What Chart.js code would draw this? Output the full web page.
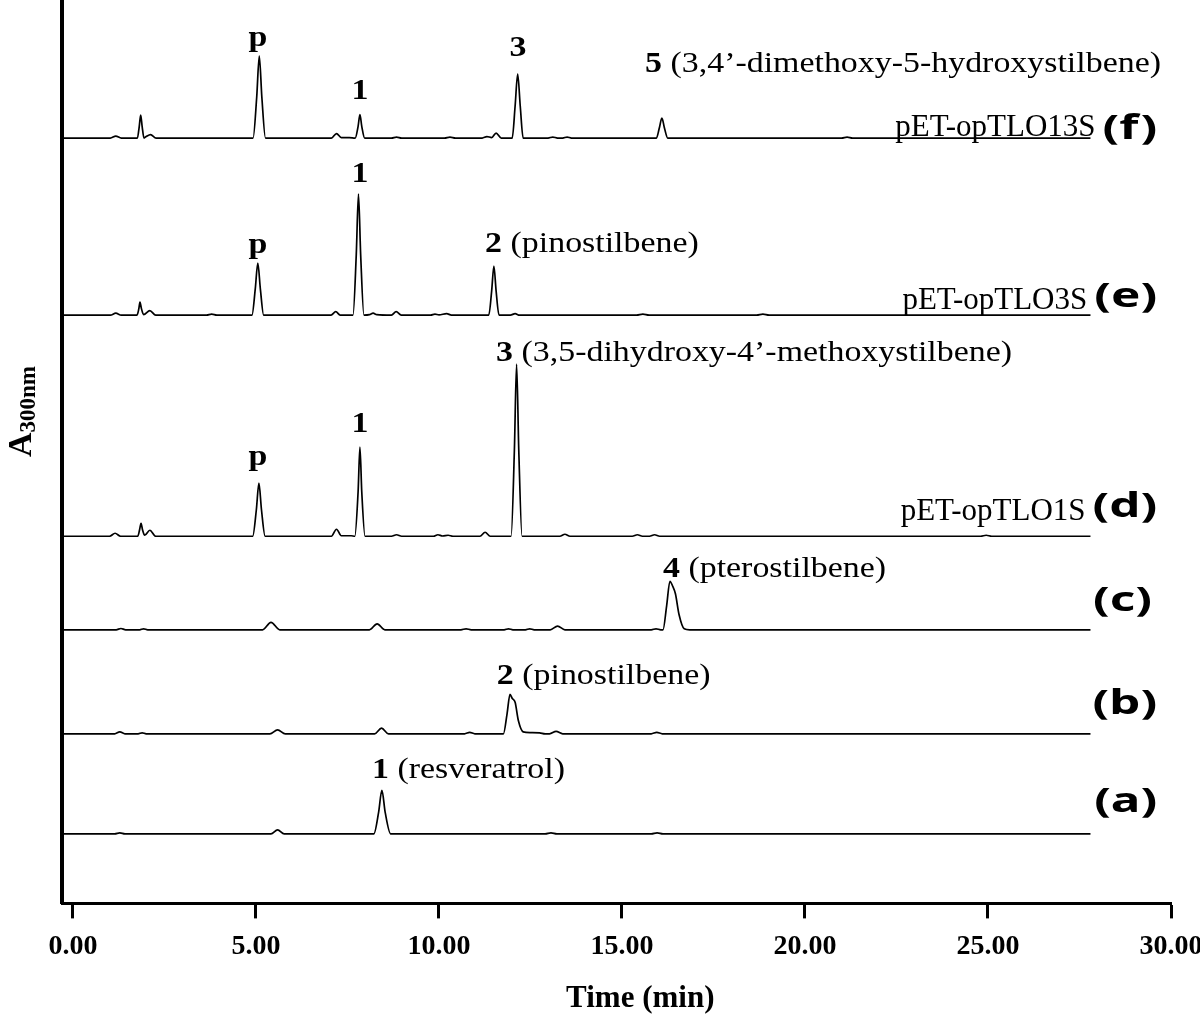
<!DOCTYPE html>
<html>
<head>
<meta charset="utf-8">
<script src="https://cdn.jsdelivr.net/npm/chart.js@4.4.1/dist/chart.umd.min.js"></script>
<style>
  html, body { margin: 0; padding: 0; background: #fff; }
  #wrap { width: 1200px; height: 1020px; }
</style>
</head>
<body>
<div id="wrap"><canvas id="chrom" width="1200" height="1020"></canvas></div>
<script>
// HPLC traces, [retention time (min), absorbance above own baseline (a.u.)]
const traceA = [[-0.25,0],[1.14,0],[1.28,0.2],[1.42,0],
  [5.41,0],[5.59,0.8],[5.77,0],
  [8.22,0],[8.35,4.3],[8.44,8.7],[8.53,4.3],[8.68,0],
  [12.9,0],[13.06,0.2],[13.22,0],
  [15.8,0],[15.96,0.2],[16.12,0],[27.8,0]];

const traceB = [[-0.25,0],[1.14,0],[1.28,0.4],[1.42,0],[1.78,0],[1.89,0.2],[2.0,0],
  [5.38,0],[5.59,0.8],[5.8,0],
  [8.24,0],[8.43,1.15],[8.62,0],
  [10.7,0],[10.84,0.3],[10.98,0],
  [11.76,0],[11.86,4.0],[11.94,7.9],[12.0,7.1],[12.08,6.3],[12.17,2.6],[12.3,0.4],[12.5,0.25],[12.75,0.2],[12.9,0],
  [13.02,0],[13.2,0.5],[13.38,0],
  [15.8,0],[15.95,0.3],[16.1,0],[27.8,0]];

const traceC = [[-0.25,0],[1.18,0],[1.31,0.26],[1.44,0],[1.82,0],[1.93,0.2],[2.04,0],
  [5.18,0],[5.41,1.5],[5.65,0],
  [8.1,0],[8.31,1.2],[8.52,0],
  [10.6,0],[10.74,0.2],[10.88,0],
  [11.78,0],[11.9,0.2],[12.02,0],
  [12.36,0],[12.48,0.2],[12.6,0],
  [13.04,0],[13.24,0.75],[13.44,0],
  [15.8,0],[15.93,0.2],[16.06,0],[16.12,0],
  [16.22,4.8],[16.31,9.7],[16.38,8.8],[16.46,7.2],[16.56,3.0],[16.7,0.2],[16.85,0],[27.8,0]];

const traceD = [[-0.25,0],[1.0,0],[1.15,0.6],[1.3,0],
  [1.77,0],[1.82,1.3],[1.86,2.6],[1.9,1.3],[1.96,0.2],[2.1,1.2],[2.26,0],
  [4.91,0],[5.01,5.3],[5.08,10.6],[5.15,5.3],[5.25,0],
  [7.06,0],[7.2,1.4],[7.33,0.1],[7.6,0.1],[7.7,0],[7.79,8.9],[7.84,17.8],[7.89,8.9],[7.98,0],
  [8.7,0],[8.84,0.3],[8.98,0],
  [9.85,0],[9.97,0.3],[10.1,0.05],[10.25,0.2],[10.38,0],
  [11.12,0],[11.26,0.8],[11.4,0],
  [11.97,0],[12.06,17.2],[12.12,34.4],[12.18,17.2],[12.27,0],
  [13.3,0],[13.44,0.4],[13.58,0],
  [15.28,0],[15.42,0.3],[15.56,0],[15.75,0],[15.89,0.3],[16.03,0],
  [24.8,0],[24.95,0.2],[25.1,0],[27.8,0]];

const traceE = [[-0.25,0],[1.02,0],[1.17,0.4],[1.32,0],
  [1.75,0],[1.80,1.3],[1.83,2.6],[1.87,1.3],[1.93,0.1],[2.1,0.9],[2.26,0],
  [3.65,0],[3.79,0.2],[3.93,0],
  [4.89,0],[4.98,5.2],[5.05,10.4],[5.12,5.2],[5.21,0],
  [7.05,0],[7.18,0.7],[7.3,0],
  [7.65,0],[7.74,12.1],[7.80,24.2],[7.86,12.1],[7.95,0],
  [8.1,0.1],[8.2,0.4],[8.3,0.1],
  [8.7,0],[8.83,0.7],[8.97,0],
  [9.77,0],[9.89,0.2],[10.0,0.05],[10.21,0.3],[10.34,0],
  [11.36,0],[11.44,4.9],[11.50,9.8],[11.56,4.9],[11.64,0],
  [11.95,0],[12.08,0.3],[12.2,0],
  [15.4,0],[15.57,0.2],[15.74,0],
  [18.68,0],[18.85,0.2],[19.02,0],[27.8,0]];

const traceF = [[-0.25,0],[1.02,0],[1.17,0.4],[1.32,0],
  [1.76,0],[1.81,2.3],[1.85,4.6],[1.89,2.3],[1.94,0],[2.0,0.3],[2.12,0.7],[2.27,0],
  [4.92,0],[5.02,8.2],[5.09,16.4],[5.16,8.2],[5.26,0],
  [7.06,0],[7.2,0.9],[7.33,0.1],[7.55,0.1],[7.71,0],[7.79,2.35],[7.84,4.7],[7.89,2.35],[7.97,0],
  [8.7,0],[8.84,0.2],[8.98,0],
  [10.15,0],[10.3,0.2],[10.45,0],
  [11.18,0],[11.31,0.3],[11.44,0.1],[11.56,1.0],[11.7,0],
  [12.0,0],[12.08,6.4],[12.15,12.8],[12.22,6.4],[12.3,0],
  [12.98,0],[13.11,0.2],[13.24,0],
  [13.38,0],[13.5,0.2],[13.62,0],
  [15.94,0],[16.02,2.0],[16.09,4.0],[16.16,2.0],[16.25,0],
  [21.0,0],[21.15,0.2],[21.3,0],[27.8,0]];

const tickValues = [0, 5, 10, 15, 20, 25, 30];

// vertical stacking of the traces (a.u. on the hidden y scale)
const baseOffsets = { a: 13.9, b: 33.9, c: 54.7, d: 73.4, e: 117.6, f: 153 };
const traces = { a: traceA, b: traceB, c: traceC, d: traceD, e: traceE, f: traceF };

const peakLabels = [
  { trace: 'f', t: 5.05, dy: 18.4, bold: 'p', align: 'center' },
  { trace: 'f', t: 7.84, dy: 7.8, bold: '1', align: 'center' },
  { trace: 'f', t: 12.16, dy: 16.4, bold: '3', align: 'center' },
  { trace: 'f', t: 15.63, dy: 13.2, bold: '5', text: '(3,4\u2019-dimethoxy-5-hydroxystilbene)' },
  { trace: 'e', t: 5.05, dy: 12.4, bold: 'p', align: 'center' },
  { trace: 'e', t: 7.84, dy: 26.6, bold: '1', align: 'center' },
  { trace: 'e', t: 11.26, dy: 12.6, bold: '2', text: '(pinostilbene)' },
  { trace: 'd', t: 5.05, dy: 14.2, bold: 'p', align: 'center' },
  { trace: 'd', t: 7.84, dy: 20.8, bold: '1', align: 'center' },
  { trace: 'd', t: 11.56, dy: 35, bold: '3', text: '(3,5-dihydroxy-4\u2019-methoxystilbene)' },
  { trace: 'c', t: 16.12, dy: 10.5, bold: '4', text: '(pterostilbene)' },
  { trace: 'b', t: 11.58, dy: 9.9, bold: '2', text: '(pinostilbene)' },
  { trace: 'a', t: 8.17, dy: 11.1, bold: '1', text: '(resveratrol)' }
];

const sampleLabels = [
  { trace: 'f', name: 'pET-opTLO13S', tag: '(f)', nameDy: 0.4, tagDy: 1.8, right: 29.62 },
  { trace: 'e', name: 'pET-opTLO3S', tag: '(e)', nameDy: 1.2, tagDy: 3.6, right: 29.62 },
  { trace: 'd', name: 'pET-opTLO1S', tag: '(d)', nameDy: 3.2, tagDy: 5.8, right: 29.62 },
  { trace: 'c', tag: '(c)', tagDy: 5.7, right: 29.48 },
  { trace: 'b', tag: '(b)', tagDy: 5.9, right: 29.62 },
  { trace: 'a', tag: '(a)', tagDy: 6.3, right: 29.62 }
];

const SERIF = '"Liberation Serif", "Times New Roman", serif';
const SANS = '"Noto Sans", "Open Sans", sans-serif';

const labelPlugin = {
  id: 'chromLabels',
  afterDraw(chart) {
    const { ctx, chartArea, scales: { x, y } } = chart;
    ctx.save();
    ctx.fillStyle = '#000';
    ctx.textBaseline = 'alphabetic';
    ctx.textAlign = 'left';

    // peak labels: bold number + plain name, slightly widened like the original
    peakLabels.forEach(l => {
      const px = x.getPixelForValue(l.t);
      const py = y.getPixelForValue(baseOffsets[l.trace] + l.dy);
      ctx.save();
      ctx.translate(px, py);
      ctx.scale(1.13, 1);
      ctx.font = 'bold 30px ' + SERIF;
      const w1 = ctx.measureText(l.bold).width;
      ctx.font = '30px ' + SERIF;
      const rest = l.text ? ' ' + l.text : '';
      const w2 = ctx.measureText(rest).width;
      const start = l.align === 'center' ? -(w1 + w2) / 2 : 0;
      ctx.font = 'bold 30px ' + SERIF;
      ctx.fillText(l.bold, start, 0);
      ctx.font = '30px ' + SERIF;
      ctx.fillText(rest, start + w1, 0);
      ctx.restore();
    });

    sampleLabels.forEach(s => {
      const right = x.getPixelForValue(s.right);
      const ty = y.getPixelForValue(baseOffsets[s.trace] + s.tagDy);
      ctx.save();
      ctx.font = 'bold 34px ' + SANS;
      ctx.textBaseline = 'middle';
      ctx.textAlign = 'right';
      const tw = ctx.measureText(s.tag).width * 1.45;
      ctx.translate(right, ty);
      ctx.scale(1.45, 1);
      ctx.fillText(s.tag, 0, 0);
      ctx.restore();
      if (s.name) {
        ctx.font = '31px ' + SERIF;
        ctx.textAlign = 'right';
        ctx.textBaseline = 'alphabetic';
        ctx.fillText(s.name, right - tw - 7, y.getPixelForValue(baseOffsets[s.trace] + s.nameDy));
      }
    });

    // y axis title A300nm
    ctx.textAlign = 'left';
    ctx.textBaseline = 'alphabetic';
    ctx.save();
    ctx.translate(chartArea.left - 31, 457);
    ctx.rotate(-Math.PI / 2);
    ctx.font = 'bold 34px ' + SERIF;
    ctx.fillText('A', 0, 0);
    const wa = ctx.measureText('A').width;
    ctx.font = 'bold 23px ' + SERIF;
    ctx.fillText('300nm', wa, 4);
    ctx.restore();

    // x axis title
    ctx.font = 'bold 31px ' + SERIF;
    ctx.textAlign = 'center';
    ctx.textBaseline = 'middle';
    ctx.fillText('Time (min)', x.getPixelForValue(15.5), chartArea.bottom + 96);

    ctx.restore();
  }
};

new Chart(document.getElementById('chrom'), {
  type: 'line',
  data: {
    datasets: Object.keys(traces).map(k => ({
      label: k,
      data: traces[k].map(([t, v]) => ({ x: t, y: v + baseOffsets[k] })),
      borderColor: '#000',
      borderWidth: 1.7,
      pointRadius: 0,
      fill: false,
      cubicInterpolationMode: 'monotone'
    }))
  },
  options: {
    responsive: false,
    animation: false,
    events: [],
    layout: { padding: { left: 62, right: 29, top: 0, bottom: 44 } },
    plugins: { legend: { display: false }, tooltip: { enabled: false } },
    scales: {
      x: {
        type: 'linear',
        min: -0.3,
        max: 30,
        afterBuildTicks: scale => { scale.ticks = tickValues.map(v => ({ value: v })); },
        afterFit: scale => { scale.paddingLeft = 0; scale.paddingRight = 0; },
        ticks: {
          color: '#000',
          padding: 12,
          maxRotation: 0,
          autoSkip: false,
          font: { family: SERIF, size: 28, weight: 'bold' },
          callback: v => v.toFixed(2)
        },
        grid: { drawOnChartArea: false, drawTicks: true, tickLength: 15, tickWidth: 3, tickColor: '#000' },
        border: { display: true, color: '#000', width: 3 }
      },
      y: {
        min: 0,
        max: 180.6,
        ticks: { display: false },
        grid: { display: false, drawTicks: false },
        border: { display: true, color: '#000', width: 4 }
      }
    }
  },
  plugins: [labelPlugin]
});
</script>
</body>
</html>
